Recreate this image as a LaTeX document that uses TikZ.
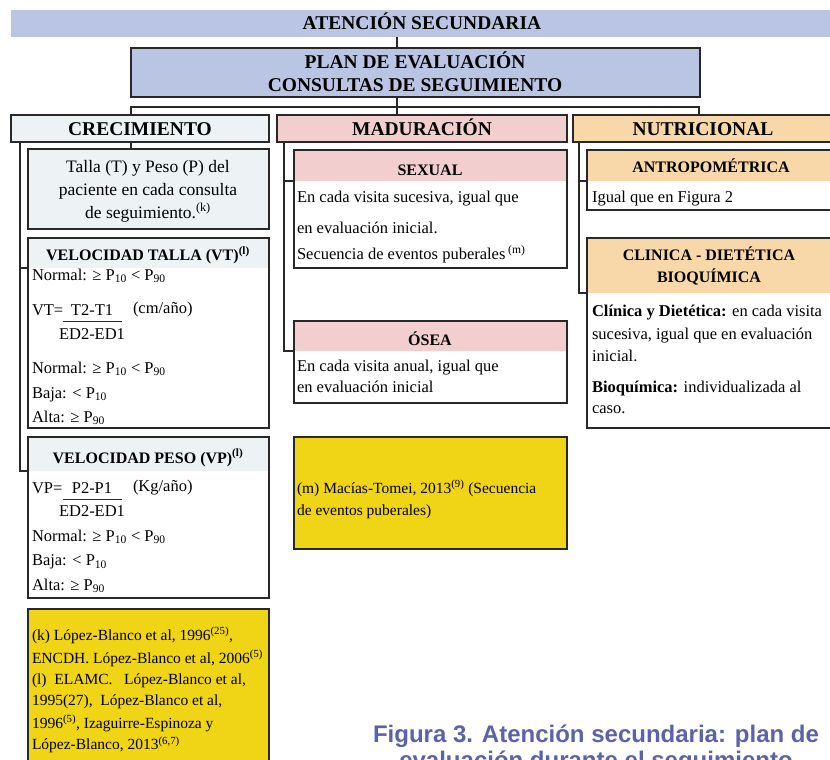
\documentclass[tikz,border=0pt]{standalone}
\usepackage{fontspec}
\setmainfont{Liberation Serif}
\newfontfamily\capfont{Liberation Sans}
\definecolor{blueC}{RGB}{186,197,228}
\definecolor{crecC}{RGB}{237,242,245}
\definecolor{pinkC}{RGB}{242,207,206}
\definecolor{peachC}{RGB}{248,215,168}
\definecolor{yelC}{RGB}{240,213,22}
\definecolor{capC}{RGB}{90,99,170}
\definecolor{lineC}{RGB}{40,40,40}
\newcommand\fzCat{\fontsize{19.5pt}{23pt}\selectfont\bfseries}
\newcommand\fzSub{\fontsize{16pt}{20pt}\selectfont\bfseries}
\newcommand\fzBody{\fontsize{16.5pt}{20pt}\selectfont}
\newcommand\fzTalla{\fontsize{17.5pt}{23pt}\selectfont}
\newcommand\fzRef{\fontsize{15.5pt}{21pt}\selectfont}
\newcommand\fzCap{\capfont\bfseries\fontsize{24pt}{26pt}\selectfont}
\begin{document}
\begin{tikzpicture}[x=1pt,y=-1pt,
  boxd/.style={draw=lineC, line width=1.3pt, anchor=north west, inner sep=0pt, outer sep=0pt},
  hdr/.style={anchor=north west, inner sep=0pt, outer sep=0pt, draw=none},
  conn/.style={draw=lineC, line width=1.3pt},
  tl/.style={inner sep=0pt, outer sep=0pt, anchor=base west},
  tc/.style={inner sep=0pt, outer sep=0pt, anchor=base},
  fbar/.style={draw=lineC, line width=0.9pt}]
\useasboundingbox (0,0) rectangle (830,760);
\clip (0,0) rectangle (830,760);

% ---------- connectors ----------
\coordinate (hub) at (397,107);
\coordinate (ct) at (20,0);
\coordinate (mt) at (284,0);
\coordinate (nt) at (579,0);

% header fills (nodes, drawn first)
\node[hdr, fill=blueC, minimum width=830pt, minimum height=27pt] (bar) at (11,10) {};
\node[hdr, fill=crecC, minimum width=241pt, minimum height=30pt] (vth) at (28,238) {};
\node[hdr, fill=crecC, minimum width=241pt, minimum height=34pt] (vph) at (28,437) {};
\node[hdr, fill=pinkC, minimum width=273pt, minimum height=31pt] (sexh) at (294,150) {};
\node[hdr, fill=pinkC, minimum width=273pt, minimum height=30pt] (oseah) at (294,321) {};
\node[hdr, fill=peachC, minimum width=250pt, minimum height=31pt] (antroh) at (587,150) {};
\node[hdr, fill=peachC, minimum width=250pt, minimum height=55pt] (clinh) at (587,238) {};

\draw[conn] (hub |- bar.south) -- (hub |- 0,48);
\draw[conn] (hub |- 0,97) -- (hub |- 0,115);
\draw[conn] (131,115) -- (131,107) -- (hub) -- (699,107) -- (699,115);
\draw[conn] (131,142) -- (131,149);
\draw[conn] (ct |- 0,142) |- (vth.south west);
\draw[conn] (ct |- 0,142) |- (vph.south west);
\draw[conn] (mt |- 0,142) |- (sexh.south west);
\draw[conn] (mt |- 0,142) |- (oseah.south west);
\draw[conn] (nt |- 0,142) |- (antroh.south west);
\draw[conn] (nt |- 0,142) |- (clinh.south west);

% ---------- boxes ----------
\node[boxd, fill=blueC, minimum width=569pt, minimum height=49pt] (plan) at (131,48) {};
\node[boxd, fill=crecC, minimum width=258pt, minimum height=27pt] (crec) at (11,115) {};
\node[boxd, fill=pinkC, minimum width=290pt, minimum height=27pt] (madu) at (277,115) {};
\node[boxd, fill=peachC, minimum width=262pt, minimum height=27pt] (nutr) at (573,115) {};
\node[boxd, fill=crecC, minimum width=241pt, minimum height=80pt] (talla) at (28,149) {};
\node[boxd, minimum width=241pt, minimum height=190pt] (vt) at (28,238) {};
\node[boxd, minimum width=241pt, minimum height=161pt] (vp) at (28,437) {};
\node[boxd, fill=yelC, minimum width=241pt, minimum height=200pt] (yk) at (28,609) {};
\node[boxd, minimum width=273pt, minimum height=118pt] (sex) at (294,150) {};
\node[boxd, minimum width=273pt, minimum height=82pt] (osea) at (294,321) {};
\node[boxd, fill=yelC, minimum width=273pt, minimum height=112pt] (ym) at (294,437) {};
\node[boxd, minimum width=250pt, minimum height=60pt] (antro) at (587,150) {};
\node[boxd, minimum width=250pt, minimum height=190pt] (clin) at (587,238) {};

% ---------- texts ----------
\node[tc, font=\fzCat] (t0) at (422,30) {ATENCIÓN SECUNDARIA};
\node[tc, font=\fzCat] (t1) at (415,68.5) {PLAN DE EVALUACIÓN};
\node[tc, font=\fzCat] (t2) at (415,92) {CONSULTAS DE SEGUIMIENTO};
\node[tc, font=\fzCat] (t3) at (140,135) {CRECIMIENTO};
\node[tc, font=\fzCat] (t4) at (422,135) {MADURACIÓN};
\node[tc, font=\fzCat] (t5) at (703,135) {NUTRICIONAL};

\node[tc, font=\fzTalla] (ta1) at (148,172) {Talla (T) y Peso (P) del};
\node[tc, font=\fzTalla] (ta2) at (148,195) {paciente en cada consulta};
\node[tc, font=\fzTalla] (ta3) at (148,218) {de seguimiento.\textsuperscript{(k)}};

\node[tc, font=\fzSub] (vt0) at (148,260.5) {VELOCIDAD TALLA (VT)\textsuperscript{(l)}};
\node[tl, font=\fzBody] (vt1) at (32,280) {Normal: ≥ P\textsubscript{10} < P\textsubscript{90}};
\node[tl, font=\fzBody] (vt2) at (32,315) {VT=};
\node[tc, font=\fzBody] (vt3) at (92,315) {T2-T1};
\node[tl, font=\fzBody] (vt4) at (133,313) {(cm/año)};
\draw[fbar] (63,321.5) -- (122,321.5);
\node[tc, font=\fzBody] (vt5) at (92,339) {ED2-ED1};
\node[tl, font=\fzBody] (vt6) at (32,373) {Normal: ≥ P\textsubscript{10} < P\textsubscript{90}};
\node[tl, font=\fzBody] (vt7) at (32,398) {Baja: < P\textsubscript{10}};
\node[tl, font=\fzBody] (vt8) at (32,422) {Alta: ≥ P\textsubscript{90}};

\node[tc, font=\fzSub] (vp0) at (148,463) {VELOCIDAD PESO (VP)\textsuperscript{(l)}};
\node[tl, font=\fzBody] (vp1) at (32,493) {VP=};
\node[tc, font=\fzBody] (vp2) at (92,493) {P2-P1};
\node[tl, font=\fzBody] (vp3) at (133,491) {(Kg/año)};
\draw[fbar] (63,499) -- (122,499);
\node[tc, font=\fzBody] (vp4) at (92,516.5) {ED2-ED1};
\node[tl, font=\fzBody] (vp5) at (32,541) {Normal: ≥ P\textsubscript{10} < P\textsubscript{90}};
\node[tl, font=\fzBody] (vp6) at (32,565.5) {Baja: < P\textsubscript{10}};
\node[tl, font=\fzBody] (vp7) at (32,590) {Alta: ≥ P\textsubscript{90}};

\node[tl, font=\fzRef] (k1) at (32,640) {(k) López-Blanco et al, 1996\textsuperscript{(25)},};
\node[tl, font=\fzRef] (k2) at (32,663) {ENCDH. López-Blanco et al, 2006\textsuperscript{(5)}};
\node[tl, font=\fzRef] (k3) at (32,684.5) {(l)\ \ ELAMC.\ \ \ López-Blanco et al,};
\node[tl, font=\fzRef] (k4) at (32,705.5) {1995(27),\ \ López-Blanco et al,};
\node[tl, font=\fzRef] (k5) at (32,728) {1996\textsuperscript{(5)}, Izaguirre-Espinoza y};
\node[tl, font=\fzRef] (k6) at (32,749.5) {López-Blanco, 2013\textsuperscript{(6,7)}};

\node[tc, font=\fzSub] (s0) at (430,175) {SEXUAL};
\node[tl, font=\fzBody] (s1) at (297,202.7) {En cada visita sucesiva, igual que};
\node[tl, font=\fzBody] (s2) at (297,233) {en evaluación inicial.};
\node[tl, font=\fzBody] (s3) at (297,259.3) {Secuencia de eventos puberales\,\textsuperscript{(m)}};

\node[tc, font=\fzSub] (o0) at (430,345) {ÓSEA};
\node[tl, font=\fzBody] (o1) at (297,371.7) {En cada visita anual, igual que};
\node[tl, font=\fzBody] (o2) at (297,392.7) {en evaluación inicial};

\node[tl, font=\fzRef] (m1) at (297,493) {(m) Macías-Tomei, 2013\textsuperscript{(9)} (Secuencia};
\node[tl, font=\fzRef] (m2) at (297,515) {de eventos puberales)};

\node[tc, font=\fzSub] (a0) at (711,172.3) {ANTROPOMÉTRICA};
\node[tl, font=\fzBody] (a1) at (592,202.7) {Igual que en Figura 2};

\node[tc, font=\fzSub] (c0) at (709,260.7) {CLINICA - DIETÉTICA};
\node[tc, font=\fzSub] (c1) at (709,282.7) {BIOQUÍMICA};
\node[tl, font=\fzBody] (c2) at (592,316.7) {\textbf{Clínica y Dietética:} en cada visita};
\node[tl, font=\fzBody] (c3) at (592,339) {sucesiva, igual que en evaluación};
\node[tl, font=\fzBody] (c4) at (592,361.7) {inicial.};
\node[tl, font=\fzBody] (c5) at (592,392.3) {\textbf{Bioquímica:} individualizada al};
\node[tl, font=\fzBody] (c6) at (592,413.3) {caso.};

\node[tc, font=\fzCap, text=capC] (cap1) at (596,742) {Figura 3. Atención secundaria: plan de};
\node[tc, font=\fzCap, text=capC] (cap2) at (596,768) {evaluación durante el seguimiento};
\end{tikzpicture}
\end{document}
